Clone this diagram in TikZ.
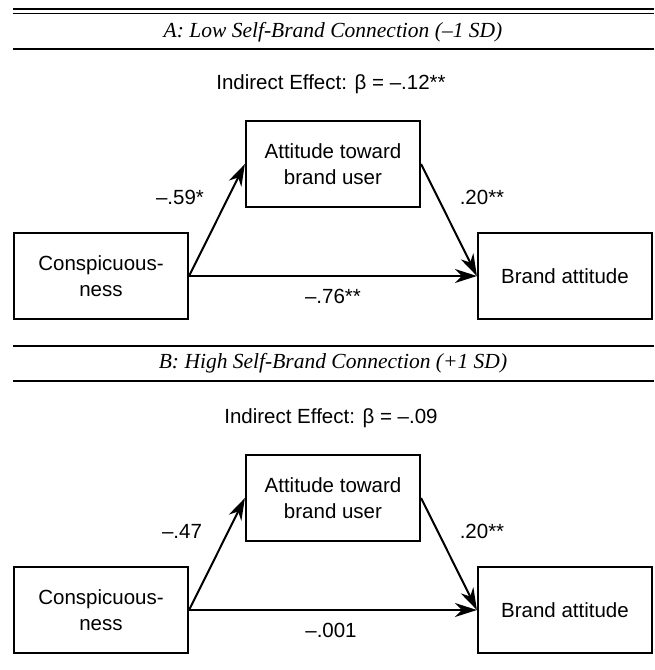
\documentclass[tikz,border=0pt]{standalone}
\usepackage{fontspec}
\setmainfont{Liberation Sans}
\newfontfamily\titlefont{Liberation Serif}
\usetikzlibrary{arrows.meta}

\begin{document}
\begin{tikzpicture}[x=1pt,y=-1pt,
  box/.style={draw,line width=2.2pt,minimum width=174pt,minimum height=86pt,
    inner sep=0pt,align=center,font=\fontsize{20.5}{26}\selectfont},
  link/.style={line width=2pt,-{Stealth[length=22pt,width=14pt,inset=7pt]}},
  coef/.style={font=\fontsize{20.5}{24}\selectfont},
  panel/.style={font=\titlefont\itshape\fontsize{21.5}{24}\selectfont},
  rule/.style={line width=1.5pt}]
\useasboundingbox (0,0) rectangle (654,670);

% top rules
\draw[line width=1.1pt] (13,9) -- (654,9);
\draw[line width=1.1pt] (13,13.5) -- (654,13.5);

% panel A
\node[panel] (titleA) at (333,32) {A: Low Self-Brand Connection (–1 SD)};
\draw[rule] (13,49) -- (654,49);
\node[coef] (indA) at (331,84) {Indirect Effect: β = –.12**};

\node[box] (consA) at (101,276) {Conspicuous-\\ness};
\node[box] (attA) at (333,164) {Attitude toward\\brand user};
\node[box] (brandA) at (565,276) {Brand attitude};

\draw[link] (consA.east) -- (attA.west);
\draw[link] (attA.east) -- (brandA.west);
\draw[link] (consA.east) -- (brandA.west);

\node[coef] (aA) at (180,197) {–.59*};
\node[coef] (bA) at (482,197) {.20**};
\node[coef] (cA) at (333,296) {–.76**};

% panel B
\draw[rule] (13,346) -- (654,346);
\node[panel] (titleB) at (333,363) {B: High Self-Brand Connection (+1 SD)};
\draw[rule] (13,381) -- (654,381);
\node[coef] (indB) at (331,418) {Indirect Effect: β = –.09};

\node[box] (consB) at (101,610) {Conspicuous-\\ness};
\node[box] (attB) at (333,498) {Attitude toward\\brand user};
\node[box] (brandB) at (565,610) {Brand attitude};

\draw[link] (consB.east) -- (attB.west);
\draw[link] (attB.east) -- (brandB.west);
\draw[link] (consB.east) -- (brandB.west);

\node[coef] (aB) at (182,531) {–.47};
\node[coef] (bB) at (482,531) {.20**};
\node[coef] (cB) at (331,630) {–.001};
\end{tikzpicture}
\end{document}
